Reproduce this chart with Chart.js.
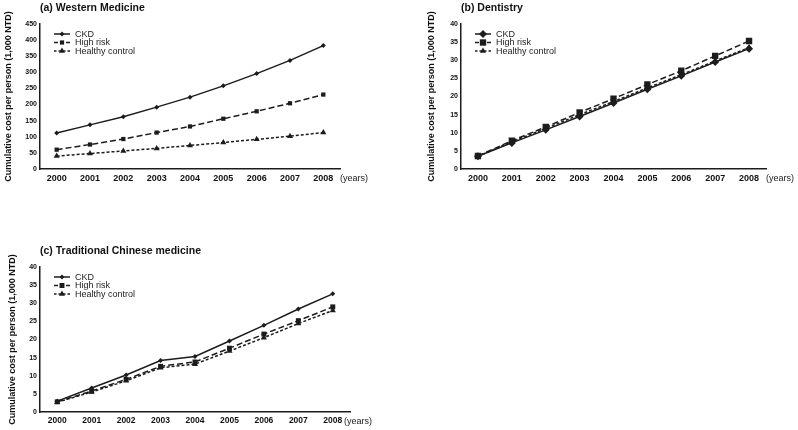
<!DOCTYPE html>
<html>
<head>
<meta charset="utf-8">
<script src="https://cdn.jsdelivr.net/npm/chart.js@4.4.1/dist/chart.umd.min.js"></script>
<style>
  body { margin: 0; background: #fff; width: 798px; height: 430px; position: relative; overflow: hidden; }
  canvas { position: absolute; }
</style>
</head>
<body>
<canvas id="westernChart" width="400" height="185" style="left:0;top:0"></canvas>
<canvas id="dentistryChart" width="378" height="185" style="left:420px;top:0"></canvas>
<canvas id="tcmChart" width="400" height="185" style="left:0;top:243px"></canvas>
<script>
const years = ['2000', '2001', '2002', '2003', '2004', '2005', '2006', '2007', '2008'];
const seriesNames = ['CKD', 'High risk', 'Healthy control'];

// (a) Western medicine
const westernCkd = [112, 137, 162, 192, 223, 258, 296, 337, 383];
const westernHighRisk = [60, 76, 93, 113, 132, 156, 179, 204, 231];
const westernHealthy = [40, 48, 56, 64, 73, 82, 92, 102, 113];

// (b) Dentistry
const dentCkd = [3.5, 7.2, 10.8, 14.5, 18.2, 22.0, 25.7, 29.5, 33.2];
const dentHighRisk = [3.6, 7.8, 11.6, 15.6, 19.4, 23.3, 27.1, 31.2, 35.3];
const dentHealthy = [3.5, 7.5, 11.2, 15.0, 18.6, 22.4, 26.0, 29.8, 33.5];

// (c) Traditional Chinese medicine
const tcmCkd = [3.0, 6.6, 10.2, 14.2, 15.3, 19.6, 23.9, 28.4, 32.6];
const tcmHighRisk = [2.8, 5.8, 9.0, 12.6, 13.8, 17.6, 21.5, 25.2, 29.0];
const tcmHealthy = [2.7, 5.5, 8.6, 12.2, 13.2, 16.8, 20.5, 24.4, 28.0];

const FONT = "'Liberation Sans', Arial, sans-serif";
const INK = '#1c1c1c';
const dashes = [[], [6, 3], [3, 2]];
const styles = ['rectRot', 'rect', 'triangle'];

// legend drawn inside the plot area, top-left, with line + marker samples
const insideLegend = {
  id: 'insideLegend',
  afterDraw(chart) {
    const ctx = chart.ctx;
    const area = chart.chartArea;
    ctx.save();
    chart.data.datasets.forEach((ds, i) => {
      const y = area.top + 10 + i * 8.5;
      const x0 = area.left + 14, x1 = area.left + 30;
      ctx.strokeStyle = INK;
      ctx.lineWidth = 1.5;
      ctx.setLineDash(i === 0 ? [] : (i === 1 ? [4, 2] : [2.5, 2]));
      ctx.beginPath();
      ctx.moveTo(x0, y);
      ctx.lineTo(x1, y);
      ctx.stroke();
      ctx.setLineDash([]);
      ctx.fillStyle = INK;
      Chart.helpers.drawPoint(ctx, {
        pointStyle: ds.pointStyle, radius: ds.pointRadius, rotation: 0, borderWidth: 0
      }, (x0 + x1) / 2, y);
      ctx.fillStyle = '#222';
      ctx.font = '9px ' + FONT;
      ctx.textBaseline = 'middle';
      ctx.textAlign = 'left';
      ctx.fillText(ds.label, area.left + 35, y + 0.5);
    });
    ctx.restore();
  }
};

// "(years)" unit label to the right of the x axis
const yearsLabel = {
  id: 'yearsLabel',
  afterDraw(chart, args, opts) {
    const ctx = chart.ctx;
    const area = chart.chartArea;
    ctx.save();
    ctx.fillStyle = '#222';
    ctx.font = '9px ' + FONT;
    ctx.textBaseline = 'middle';
    ctx.textAlign = 'left';
    ctx.fillText('(years)', area.right + (opts.dx || 0), area.bottom + 9.5);
    ctx.restore();
  }
};

function makeChart(id, title, values, yMax, yStep, radii, opt) {
  const datasets = values.map((data, i) => ({
    label: seriesNames[i],
    data,
    borderColor: INK,
    backgroundColor: INK,
    borderWidth: 1.5,
    borderDash: dashes[i],
    pointStyle: styles[i],
    pointRadius: radii[i],
    pointBorderWidth: 0,
    pointBackgroundColor: INK,
    tension: 0
  }));

  return new Chart(document.getElementById(id), {
    type: 'line',
    data: { labels: years, datasets },
    options: {
      responsive: false,
      animation: false,
      layout: { padding: { right: opt.padRight, left: 0, top: 0, bottom: 0 } },
      plugins: {
        legend: { display: false },
        tooltip: { enabled: false },
        title: {
          display: true,
          text: title,
          align: 'start',
          fullSize: false,
          color: '#111',
          font: { family: FONT, size: 10.5, weight: 'bold' },
          padding: { top: 2, bottom: 9.4 }
        },
        yearsLabel: { dx: opt.yearsDx }
      },
      scales: {
        x: {
          offset: true,
          grid: { display: false, drawTicks: false },
          border: { display: true, color: INK, width: 1.5 },
          ticks: { color: '#111', padding: 4, font: { family: FONT, size: opt.xFont, weight: 'bold' } },
          afterFit: s => { s.height = 16; }
        },
        y: {
          min: 0,
          max: yMax,
          grid: { display: false, drawTicks: false },
          border: { display: true, color: INK, width: 1.5 },
          ticks: { stepSize: yStep, color: '#111', padding: 3, font: { family: FONT, size: 7, weight: 'bold' } },
          title: {
            display: true,
            text: 'Cumulative cost per person (1,000 NTD)',
            color: '#111',
            font: { family: FONT, size: 9, weight: 'bold' },
            padding: { top: opt.titlePad, bottom: 0 }
          },
          afterFit: s => { s.width = opt.yWidth; }
        }
      }
    },
    plugins: [insideLegend, yearsLabel]
  });
}

makeChart('westernChart', '(a) Western Medicine',
  [westernCkd, westernHighRisk, westernHealthy], 450, 50, [2.5, 3, 3.5],
  { padRight: 60, yWidth: 40, titlePad: 3, yearsDx: 0, xFont: 9 });

makeChart('dentistryChart', '(b) Dentistry',
  [dentCkd, dentHighRisk, dentHealthy], 40, 5, [4, 4.5, 3.5],
  { padRight: 32, yWidth: 41, titlePad: 6, yearsDx: 0, xFont: 9 });

makeChart('tcmChart', '(c) Traditional Chinese medicine',
  [tcmCkd, tcmHighRisk, tcmHealthy], 40, 5, [2.5, 3.5, 3.5],
  { padRight: 50, yWidth: 40, titlePad: 7, yearsDx: -6, xFont: 8.5 });
</script>
</body>
</html>
